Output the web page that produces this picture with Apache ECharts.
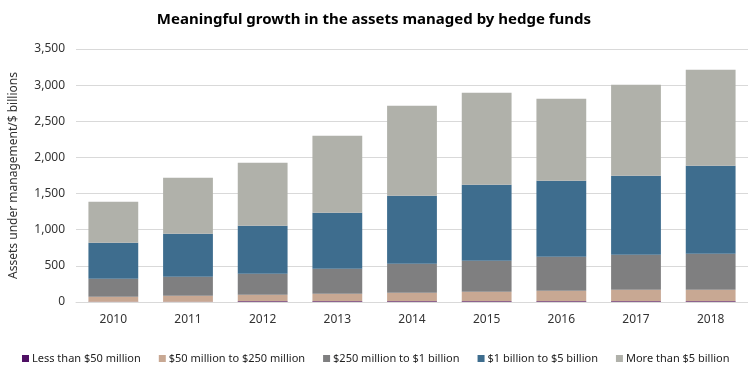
<!DOCTYPE html>
<html>
<head>
<meta charset="utf-8">
<script src="https://cdn.jsdelivr.net/npm/echarts@6/dist/echarts.min.js"></script>
<style>html,body{margin:0;padding:0;background:#fff}#c{width:748px;height:371px}</style>
</head>
<body>
<div id="c"></div>
<script>
const years = ['2010','2011','2012','2013','2014','2015','2016','2017','2018'];
const lessThan50m = [3, 3, 10, 10, 10, 10, 10, 10, 10];
const from50mTo250m = [71, 84, 91, 105, 119, 132, 146, 160, 160];
const from250mTo1b = [248, 263, 290, 346, 401, 429, 471, 484, 498];
const from1bTo5b = [498, 595, 664, 774, 940, 1052, 1051, 1093, 1218];
const moreThan5b = [567, 775, 872, 1065, 1246, 1272, 1134, 1259, 1328];
const seriesNames = ['Less than $50 million', '$50 million to $250 million', '$250 million to $1 billion', '$1 billion to $5 billion', 'More than $5 billion'];
const colors = ['#4f1064', '#c8a893', '#7f7f80', '#3e6d8e', '#b0b1aa'];
const seriesData = [lessThan50m, from50mTo250m, from250mTo1b, from1bTo5b, moreThan5b];
const FONT = '"Noto Sans", sans-serif';

const chart = echarts.init(document.getElementById('c'), null, {renderer: 'canvas'});
chart.setOption({
  animation: false,
  textStyle: {fontFamily: FONT},
  title: {
    text: 'Meaningful growth in the assets managed by hedge funds',
    left: 'center', top: 7,
    textStyle: {fontFamily: FONT, fontSize: 15, fontWeight: 'bold', color: '#000'}
  },
  legend: {
    left: 17, top: 348, width: 740,
    icon: 'rect', itemWidth: 7, itemHeight: 7, itemGap: 18,
    textStyle: {fontFamily: FONT, fontSize: 11, color: '#222', padding: [0,0,0,-2]},
    data: seriesNames
  },
  grid: {left: 73, right: 0, top: 49, bottom: 69, containLabel: false},
  xAxis: {
    type: 'category', data: years,
    axisLine: {lineStyle: {color: '#d9d9d9'}},
    axisTick: {show: false},
    axisLabel: {fontFamily: FONT, fontSize: 12, color: '#333', margin: 12}
  },
  yAxis: {
    type: 'value', min: 0, max: 3500, interval: 500,
    name: 'Assets under management/$ billions',
    nameLocation: 'middle', nameGap: 56,
    nameTextStyle: {fontFamily: FONT, fontSize: 12, color: '#333'},
    axisLine: {show: false}, axisTick: {show: false},
    splitLine: {lineStyle: {color: '#d9d9d9'}},
    axisLabel: {fontFamily: FONT, fontSize: 12, color: '#333', margin: 11,
      formatter: v => v.toLocaleString('en-US')}
  },
  series: seriesNames.map((n, i) => ({
    name: n, type: 'bar', stack: 'total', data: seriesData[i],
    barWidth: '66.7%', itemStyle: {color: colors[i]}
  }))
});
</script>
</body>
</html>
